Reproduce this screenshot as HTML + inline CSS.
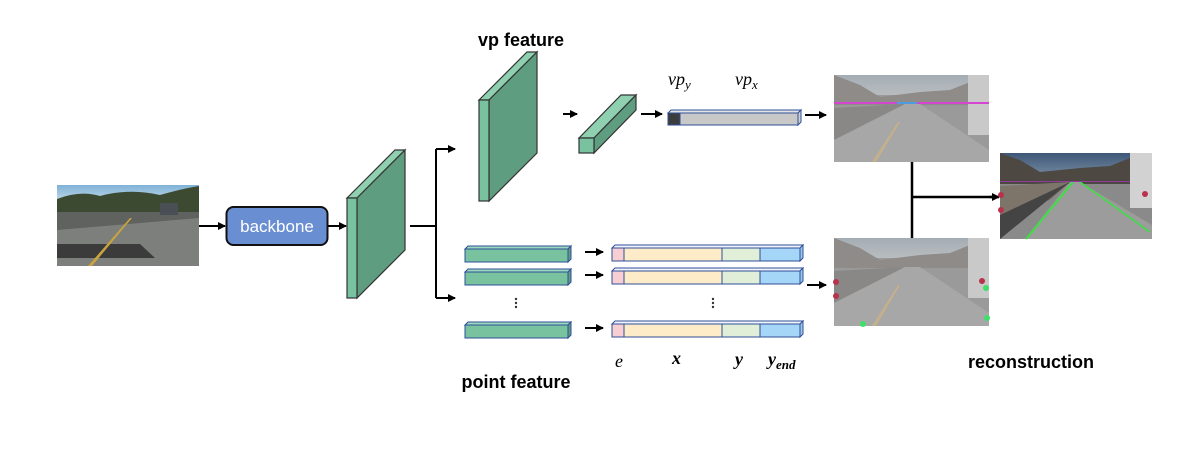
<!DOCTYPE html>
<html><head><meta charset="utf-8"><style>
html,body{margin:0;padding:0;background:#fff;width:1181px;height:452px;overflow:hidden}
svg{display:block}
text{font-family:"Liberation Sans",sans-serif}
.m{font-family:"Liberation Serif",serif;font-style:italic}
</style></head><body>
<svg width="1181" height="452" viewBox="0 0 1181 452" xmlns="http://www.w3.org/2000/svg">
<defs>
<marker id="ah" markerWidth="8" markerHeight="8" refX="7" refY="4" orient="auto" markerUnits="userSpaceOnUse"><path d="M0,0 L8,4 L0,8 z" fill="#000"/></marker>
<linearGradient id="sky1" x1="0" y1="0" x2="0" y2="1"><stop offset="0" stop-color="#7fb2d8"/><stop offset="1" stop-color="#b8d2e4"/></linearGradient>
<linearGradient id="skyg" x1="0" y1="0" x2="0" y2="1"><stop offset="0" stop-color="#a4adb4"/><stop offset="1" stop-color="#b8bcbf"/></linearGradient>
<linearGradient id="skyd" x1="0" y1="0" x2="0" y2="1"><stop offset="0" stop-color="#3d5777"/><stop offset="1" stop-color="#7b8fa5"/></linearGradient>
</defs>

<!-- input image -->
<rect x="57" y="185" width="142" height="81" fill="#7d7f7c"/>
<rect x="57" y="185" width="142" height="14" fill="url(#sky1)"/>
<path d="M57,199 Q80,190 100,196 Q130,188 160,195 Q185,188 199,186 L199,212 L57,212 z" fill="#3c4a32"/>
<path d="M57,212 L199,212 L199,218 L57,230 z" fill="#5f625e"/>
<path d="M57,244 L140,244 L155,258 L57,258 z" fill="#3a3b3a"/>
<path d="M88,266 L130,218 L132,218 L92,266 z" fill="#c9a43e"/>
<rect x="160" y="203" width="18" height="12" fill="#4a4e55"/>

<!-- arrow to backbone -->
<line x1="199" y1="226" x2="225" y2="226" stroke="#000" stroke-width="2" marker-end="url(#ah)"/>
<rect x="226.5" y="207" width="101" height="38" rx="7" fill="#6a8ed2" stroke="#111" stroke-width="2"/>
<text x="277" y="232" font-size="17" fill="#fff" text-anchor="middle" font-family="DejaVu Sans, sans-serif">backbone</text>
<line x1="328" y1="226" x2="346" y2="226" stroke="#000" stroke-width="2" marker-end="url(#ah)"/>

<!-- big slab -->
<g stroke="#333" stroke-width="1.2">
<polygon points="347,198 395,150 405,150 357,198" fill="#8fd0b1"/>
<polygon points="357,198 405,150 405,250 357,298" fill="#5f9d80"/>
<rect x="347" y="198" width="10" height="100" fill="#78c29f"/>
</g>
<!-- split -->
<path d="M410,226 L436,226 M436,149 L436,298" stroke="#000" stroke-width="2" fill="none"/>
<line x1="436" y1="149" x2="455" y2="149" stroke="#000" stroke-width="2" marker-end="url(#ah)"/>
<line x1="436" y1="298" x2="455" y2="298" stroke="#000" stroke-width="2" marker-end="url(#ah)"/>

<text x="521" y="46" font-size="18" font-weight="bold" text-anchor="middle">vp feature</text>
<!-- vp slab -->
<g stroke="#333" stroke-width="1.2">
<polygon points="479,100 527,52 537,52 489,100" fill="#8fd0b1"/>
<polygon points="489,100 537,52 537,153 489,201" fill="#5f9d80"/>
<rect x="479" y="100" width="10" height="101" fill="#78c29f"/>
</g>
<line x1="563" y1="114" x2="577" y2="114" stroke="#000" stroke-width="2" marker-end="url(#ah)"/>
<!-- small bar -->
<g stroke="#333" stroke-width="1.2">
<polygon points="579,138 621,95 636,95 594,138" fill="#8fd0b1"/>
<polygon points="594,138 636,95 636,110 594,153" fill="#5f9d80"/>
<rect x="579" y="138" width="15" height="15" fill="#78c29f"/>
</g>
<line x1="641" y1="114" x2="662" y2="114" stroke="#000" stroke-width="2" marker-end="url(#ah)"/>
<!-- vp bar -->
<g stroke="#2f4f9a" stroke-width="1">
<polygon points="668,113 671,110 801,110 798,113" fill="#e4e4e4"/>
<polygon points="798,113 801,110 801,122 798,125" fill="#d0d0d0"/>
<rect x="668" y="113" width="130" height="12" fill="#c8c8c8"/>
<rect x="668" y="113" width="12" height="12" fill="#3c3c3c"/>
</g>
<text class="m" x="668" y="85" font-size="18">vp<tspan font-size="13" dy="4">y</tspan></text>
<text class="m" x="735" y="85" font-size="18">vp<tspan font-size="13" dy="4">x</tspan></text>
<line x1="805" y1="115" x2="826" y2="115" stroke="#000" stroke-width="2" marker-end="url(#ah)"/>

<!-- point features -->
<g stroke="#2f4f9a" stroke-width="1">
<g id="gb">
<polygon points="465,249 468,246 571,246 568,249" fill="#9bd9bc"/>
<polygon points="568,249 571,246 571,259 568,262" fill="#5f9d80"/>
<rect x="465" y="249" width="103" height="13" fill="#78c29f"/>
</g>
<use href="#gb" y="23"/>
<use href="#gb" y="76"/>
<g id="cb">
<polygon points="612,248 615,245 803,245 800,248" fill="#f2f4fb"/>
<polygon points="800,248 803,245 803,258 800,261" fill="#9cc7ea"/>
<rect x="612" y="248" width="12" height="13" fill="#f7cfd2"/>
<rect x="624" y="248" width="98" height="13" fill="#fdecc7"/>
<rect x="722" y="248" width="38" height="13" fill="#e1efd9"/>
<rect x="760" y="248" width="40" height="13" fill="#a6d6f7"/>
</g>
<use href="#cb" y="23"/>
<use href="#cb" y="76"/>
</g>
<g fill="#333"><circle cx="516" cy="299" r="1.2"/><circle cx="516" cy="303" r="1.2"/><circle cx="516" cy="307" r="1.2"/>
<circle cx="713" cy="299" r="1.2"/><circle cx="713" cy="303" r="1.2"/><circle cx="713" cy="307" r="1.2"/></g>
<line x1="585" y1="252" x2="603" y2="252" stroke="#000" stroke-width="2" marker-end="url(#ah)"/>
<line x1="585" y1="275" x2="603" y2="275" stroke="#000" stroke-width="2" marker-end="url(#ah)"/>
<line x1="585" y1="328" x2="603" y2="328" stroke="#000" stroke-width="2" marker-end="url(#ah)"/>
<line x1="807" y1="285" x2="826" y2="285" stroke="#000" stroke-width="2" marker-end="url(#ah)"/>
<text class="m" x="615" y="367" font-size="18">e</text>
<text class="m" x="672" y="364" font-size="18" font-weight="bold">x</text>
<text class="m" x="735" y="365" font-size="18" font-weight="bold">y</text>
<text class="m" x="768" y="365" font-size="18" font-weight="bold">y<tspan font-size="13" dy="4">end</tspan></text>
<text x="516" y="388" font-size="18" font-weight="bold" text-anchor="middle">point feature</text>

<!-- top result image -->
<g>
<rect x="834" y="75" width="155" height="87" fill="#9a9a9a"/>
<rect x="834" y="75" width="155" height="20" fill="url(#skyg)"/>
<path d="M834,75 L860,85 L880,97 L920,92 L950,90 L975,80 L989,75 L989,105 L834,105 z" fill="#8e8b88"/>
<path d="M834,108 L905,104 L880,125 L834,140 z" fill="#8a8886"/>
<path d="M834,140 L905,104 L920,104 L989,150 L989,162 L834,162 z" fill="#a7a7a7"/>
<path d="M872,162 L898,122 L900,122 L876,162 z" fill="#c4b08a"/>
<rect x="968" y="75" width="21" height="60" fill="#c9c9c9"/>
<rect x="834" y="102" width="155" height="2" fill="#d645d0"/>
<rect x="897" y="102" width="20" height="2" fill="#4d9be0"/>
</g>
<!-- bottom result image -->
<g>
<rect x="834" y="238" width="155" height="88" fill="#9a9a9a"/>
<rect x="834" y="238" width="155" height="20" fill="url(#skyg)"/>
<path d="M834,238 L860,248 L880,260 L920,255 L950,253 L975,243 L989,238 L989,268 L834,268 z" fill="#8e8b88"/>
<path d="M834,271 L905,267 L880,288 L834,303 z" fill="#8a8886"/>
<path d="M834,303 L905,267 L920,267 L989,313 L989,326 L834,326 z" fill="#a7a7a7"/>
<path d="M872,326 L898,285 L900,285 L876,326 z" fill="#c4b08a"/>
<rect x="968" y="238" width="21" height="60" fill="#c9c9c9"/>
<circle cx="836" cy="282" r="3" fill="#b8324c"/><circle cx="836" cy="296" r="3" fill="#b8324c"/>
<circle cx="982" cy="281" r="3" fill="#b8324c"/><circle cx="986" cy="288" r="3" fill="#3ee06a"/>
<circle cx="987" cy="318" r="3" fill="#3ee06a"/><circle cx="863" cy="324" r="3" fill="#3ee06a"/>
</g>
<!-- connector -->
<path d="M912,162 L912,238 M912,197 L992,197" stroke="#000" stroke-width="2.5" fill="none"/>
<line x1="990" y1="197" x2="999" y2="197" stroke="#000" stroke-width="2.5" marker-end="url(#ah)"/>
<!-- final image -->
<g>
<rect x="1000" y="153" width="152" height="86" fill="#8a8a8a"/>
<rect x="1000" y="153" width="152" height="25" fill="url(#skyd)"/>
<path d="M1000,153 L1020,160 L1040,172 L1080,168 L1110,166 L1135,156 L1152,153 L1152,184 L1000,184 z" fill="#4e4843"/>
<path d="M1000,186 L1070,182 L1050,200 L1000,215 z" fill="#7d746a"/>
<path d="M1000,215 L1070,182 L1000,239 z" fill="#444"/>
<path d="M1025,239 L1070,182 L1080,182 L1152,225 L1152,239 z" fill="#9c9c9c"/>
<path d="M1026,239 L1073,182" stroke="#3be043" stroke-width="2"/>
<path d="M1080,182 L1150,232" stroke="#3be043" stroke-width="1.5"/>
<rect x="1000" y="181" width="152" height="1" fill="#8d3a9a"/>
<rect x="1130" y="153" width="22" height="55" fill="#d2d2d2"/>
<circle cx="1001" cy="195" r="3" fill="#b8324c"/><circle cx="1001" cy="210" r="3" fill="#b8324c"/>
<circle cx="1145" cy="194" r="3" fill="#b8324c"/>
</g>
<text x="1031" y="368" font-size="18" font-weight="bold" text-anchor="middle">reconstruction</text>
</svg>
</body></html>
